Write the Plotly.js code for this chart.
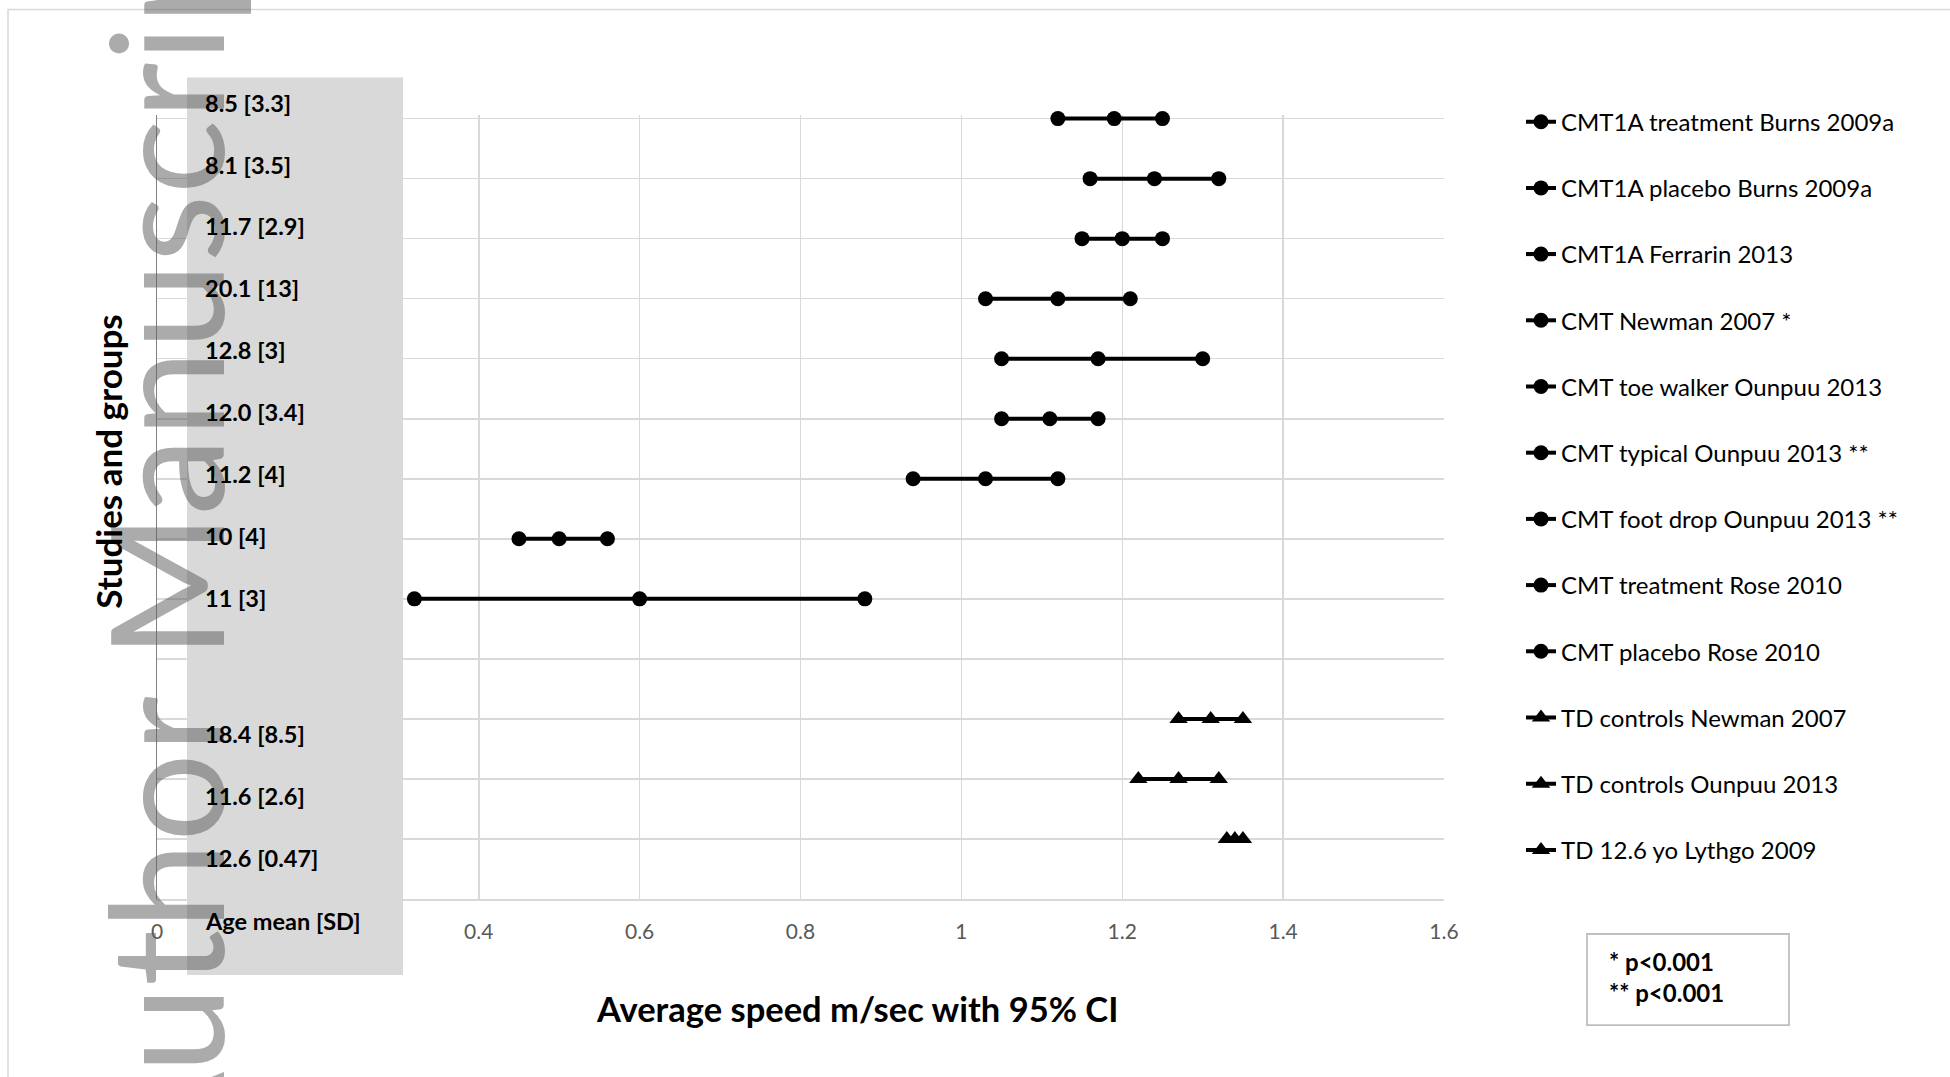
<!DOCTYPE html>
<html>
<head>
<meta charset="utf-8">
<script src="https://cdn.plot.ly/plotly-3.0.1.min.js"></script>
<style>html,body{margin:0;padding:0;background:#fff;}#chart{width:1950px;height:1077px;}</style>
</head>
<body>
<div id="chart"></div>
<script>
// ---- data ----
const seriesNames = [
  "CMT1A treatment Burns 2009a",
  "CMT1A placebo Burns 2009a",
  "CMT1A Ferrarin 2013",
  "CMT Newman 2007 *",
  "CMT toe walker Ounpuu 2013",
  "CMT typical Ounpuu 2013 **",
  "CMT foot drop Ounpuu 2013 **",
  "CMT treatment Rose 2010",
  "CMT placebo Rose 2010",
  "TD controls Newman 2007",
  "TD controls Ounpuu 2013",
  "TD 12.6 yo Lythgo 2009"
];
const rowY   = [13, 12, 11, 10, 9, 8, 7, 6, 5, 3, 2, 1];
const lower  = [1.12, 1.16, 1.15, 1.03, 1.05, 1.05, 0.94, 0.45, 0.32, 1.27, 1.22, 1.33];
const meanV  = [1.19, 1.24, 1.20, 1.12, 1.17, 1.11, 1.03, 0.50, 0.60, 1.31, 1.27, 1.34];
const upper  = [1.25, 1.32, 1.25, 1.21, 1.30, 1.17, 1.12, 0.56, 0.88, 1.35, 1.32, 1.35];
const ageLabelsCMT = ["8.5 [3.3]", "8.1 [3.5]", "11.7 [2.9]", "20.1 [13]", "12.8 [3]", "12.0 [3.4]", "11.2 [4]", "10 [4]", "11 [3]"];
const ageLabelsTD  = ["18.4 [8.5]", "11.6 [2.6]", "12.6 [0.47]", "Age mean [SD]"];
const xTickVals = [0, 0.4, 0.6, 0.8, 1, 1.2, 1.4, 1.6];
const xTitle = "Average speed m/sec with 95% CI";
const yTitle = "Studies and groups";
const noteLines = ["* p<0.001", "** p<0.001"];
const watermark = "Author Manuscript";

// ---- geometry helpers (pixels -> paper) ----
const yMax = 13.06;            // a hair above the top row so its line is not clipped
const L = 157, R = 1444, B = 899;
const T = B - 60 * yMax;       // 60 px per row
const W = R - L, H = B - T;
const px = x => (x - L) / W;
const py = y => (B - y) / H;
const FONT = "Lato, 'Open Sans', sans-serif";

const traces = seriesNames.map((name, i) => ({
  type: "scatter",
  mode: "lines+markers",
  name: name,
  legendgroup: "g" + i,
  x: [lower[i], meanV[i], upper[i]],
  y: [rowY[i], rowY[i], rowY[i]],
  cliponaxis: false,
  line: {color: "#000", width: 4},
  marker: {
    color: "#000",
    size: name.startsWith("TD") ? 16 : 15,
    symbol: name.startsWith("TD") ? "triangle-up" : "circle"
  },
  hoverinfo: "skip"
}));

const annotations = [];
annotations.push({
  xref: "paper", yref: "paper", x: px(163), y: py(530),
  text: watermark, textangle: -90, showarrow: false,
  xanchor: "center", yanchor: "middle",
  font: {family: FONT, size: 157, color: "rgba(96,96,96,0.53)"}
});
annotations.push({
  xref: "paper", yref: "paper", x: px(108), y: py(462),
  text: "<b>" + yTitle + "</b>", textangle: -90, showarrow: false,
  xanchor: "center", yanchor: "middle",
  font: {family: FONT, size: 35, color: "#000"}
});
annotations.push({
  xref: "paper", yref: "paper", x: px(857), y: py(1008),
  text: "<b>" + xTitle + "</b>", showarrow: false,
  xanchor: "center", yanchor: "middle",
  font: {family: FONT, size: 34.5, color: "#000"}
});
ageLabelsCMT.forEach((t, i) => annotations.push({
  xref: "paper", yref: "paper", x: px(203), y: py(103 + 61.9 * i),
  text: "<b>" + t + "</b>", showarrow: false, xanchor: "left", yanchor: "middle",
  font: {family: FONT, size: 23.5, color: "#000"}
}));
ageLabelsTD.forEach((t, i) => annotations.push({
  xref: "paper", yref: "paper", x: px(203), y: py(734 + 62.2 * i),
  text: "<b>" + t + "</b>", showarrow: false, xanchor: "left", yanchor: "middle",
  font: {family: FONT, size: 23.5, color: "#000"}
}));
annotations.push({
  xref: "paper", yref: "paper", x: px(1607), y: py(977),
  text: noteLines.map(s => "<b>" + s + "</b>").join("<br>"), showarrow: false,
  xanchor: "left", yanchor: "middle", align: "left",
  font: {family: FONT, size: 24, color: "#000"}
});

const shapes = [
  {type: "rect", xref: "paper", yref: "paper", x0: px(8), x1: px(2100), y0: py(10), y1: py(1200),
   line: {color: "#d9d9d9", width: 1.5}, fillcolor: "rgba(0,0,0,0)", layer: "below"},
  {type: "rect", xref: "paper", yref: "paper", x0: px(187), x1: px(403), y0: py(975), y1: py(78),
   line: {width: 0}, fillcolor: "#d9d9d9", layer: "above"},
  {type: "rect", xref: "paper", yref: "paper", x0: px(1587), x1: px(1789), y0: py(1025), y1: py(934),
   line: {color: "#bfbfbf", width: 1.8}, fillcolor: "#fff", layer: "above"}
];

const layout = {
  width: 1950, height: 1077,
  margin: {l: L, r: 1950 - R, t: T, b: 1077 - B, pad: 0},
  paper_bgcolor: "#fff", plot_bgcolor: "#fff",
  font: {family: FONT, color: "#000"},
  xaxis: {
    range: [0, 1.6], tickvals: xTickVals, showgrid: true, gridcolor: "#d9d9d9", gridwidth: 1.5,
    zeroline: false, showline: true, linecolor: "#d9d9d9", linewidth: 1.5, ticks: "",
    ticklabelstandoff: 13, tickfont: {family: FONT, size: 21, color: "#595959"}, fixedrange: true
  },
  yaxis: {
    range: [0, yMax], tick0: 0, dtick: 1, showgrid: true, gridcolor: "#d9d9d9", gridwidth: 1.5,
    zeroline: false, showline: true, linecolor: "#808080", linewidth: 1.3, ticks: "",
    showticklabels: false, fixedrange: true
  },
  showlegend: true,
  legend: {
    x: px(1521), y: py(100), xanchor: "left", yanchor: "top",
    font: {family: FONT, size: 24, color: "#000"}, tracegroupgap: 32,
    bgcolor: "rgba(0,0,0,0)", borderwidth: 0, itemwidth: 30, maxheight: 1000
  },
  annotations: annotations,
  shapes: shapes
};

Plotly.newPlot("chart", traces, layout, {displayModeBar: false, staticPlot: true});
</script>
</body>
</html>
